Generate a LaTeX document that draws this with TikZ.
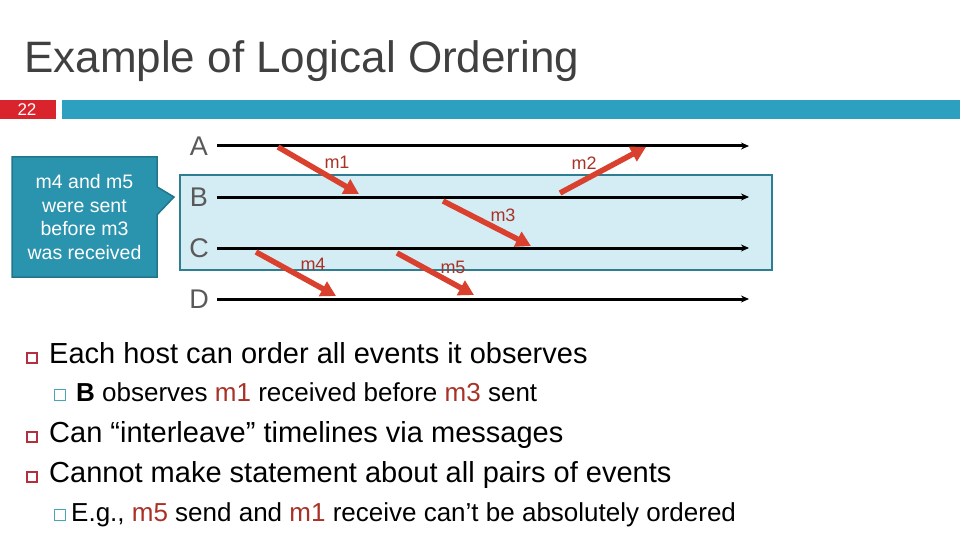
\documentclass[tikz,border=0pt]{standalone}
\usepackage{fontspec}
\setmainfont{Liberation Sans}
\usetikzlibrary{arrows.meta}
\usetikzlibrary{shapes.callouts}
\definecolor{numred}{HTML}{D9232D}
\definecolor{barblue}{HTML}{2EA0BF}
\definecolor{ttlgray}{HTML}{404040}
\definecolor{hostgray}{HTML}{595959}
\definecolor{boxfill}{HTML}{D4ECF4}
\definecolor{boxedge}{HTML}{2E7D91}
\definecolor{notefill}{HTML}{2A93AE}
\definecolor{noteedge}{HTML}{21768C}
\definecolor{msgred}{HTML}{D9412E}
\definecolor{lblred}{HTML}{A93226}
\definecolor{bulred}{HTML}{B43040}
\definecolor{subteal}{HTML}{4BA3B8}
% timeline grid, in px of the slide
\newcommand{\tlxa}{217}
\newcommand{\tlxb}{749}
\newcommand{\tlya}{146}
\newcommand{\tlyb}{197}
\newcommand{\tlyc}{248}
\newcommand{\tlyd}{299}
\newcommand{\hstx}{199}
\newcommand{\bulx}{31.5}
\newcommand{\sbulx}{60}
\newcommand{\txtx}{49}

\begin{document}
\begin{tikzpicture}[x=1pt,y=-1pt,
    tline/.style={line width=3pt,-{Stealth[length=8pt,width=7pt]}},
    msg/.style={line width=5.5pt,draw=msgred,-{Triangle[length=15pt,width=16pt]}},
    msglbl/.style={font=\fontsize{18}{20}\selectfont,text=lblred,inner sep=0pt},
    hostlbl/.style={font=\fontsize{27}{30}\selectfont,text=hostgray,inner sep=0pt},
    bul/.style={draw=bulred,line width=2pt,minimum size=10pt,inner sep=0pt},
    subbul/.style={draw=subteal,line width=1.6pt,minimum size=11pt,inner sep=0pt},
    maintxt/.style={anchor=base west,inner sep=0pt,font=\fontsize{29}{32}\selectfont},
    subtxt/.style={anchor=base west,inner sep=0pt,font=\fontsize{26}{28}\selectfont}]
    \useasboundingbox (0,0) rectangle (960,540);

    \node (ttl) [anchor=base west,inner sep=0pt,text=ttlgray,
      font=\fontsize{44}{50}\selectfont] at (24,73) {Example of Logical Ordering};

    \fill[numred] (0,100) rectangle (56,119);
    \fill[barblue] (62,100) rectangle (960,119);
    \node (num) [text=white,inner sep=0pt,font=\fontsize{17}{18}\selectfont]
      at (27,110) {22};

    \draw[draw=boxedge,fill=boxfill,line width=2pt] (180,175) rectangle (772,270);

    \node (note) [rectangle callout,fill=notefill,draw=noteedge,line width=1.5pt,
      minimum width=145pt,minimum height=120pt,inner sep=0pt,
      callout absolute pointer={(174,197)},callout pointer width=28pt,
      text=white,align=center,font=\fontsize{19.5}{23.5}\selectfont]
      at (84.5,217) {m4 and m5\\were sent\\before m3\\was received};

    % hosts
    \node (hA) [hostlbl] at (\hstx, \tlya) {A};
    \node (hB) [hostlbl] at (\hstx, \tlyb) {B};
    \node (hC) [hostlbl] at (\hstx, \tlyc) {C};
    \node (hD) [hostlbl] at (\hstx, \tlyd) {D};
    \coordinate (As) at (\tlxa, \tlya);
    \coordinate (Ae) at (\tlxb, \tlya);
    \coordinate (Bs) at (\tlxa, \tlyb);
    \coordinate (Be) at (\tlxb, \tlyb);
    \coordinate (Cs) at (\tlxa, \tlyc);
    \coordinate (Ce) at (\tlxb, \tlyc);
    \coordinate (Ds) at (\tlxa, \tlyd);
    \coordinate (De) at (\tlxb, \tlyd);
    \draw[tline] (As) -- (Ae);
    \draw[tline] (Bs) -- (Be);
    \draw[tline] (Cs) -- (Ce);
    \draw[tline] (Ds) -- (De);

    % messages
    \coordinate (m1s) at (278,147);
    \coordinate (m1r) at (359,194);
    \coordinate (m2s) at (560,193);
    \coordinate (m2r) at (646,147);
    \coordinate (m3s) at (443,201);
    \coordinate (m3r) at (531,246);
    \coordinate (m4s) at (256,252);
    \coordinate (m4r) at (336,296);
    \coordinate (m5s) at (397,253);
    \coordinate (m5r) at (474,295);
    \draw[msg] (m1s) -- (m1r);
    \draw[msg] (m2s) -- (m2r);
    \draw[msg] (m3s) -- (m3r);
    \draw[msg] (m4s) -- (m4r);
    \draw[msg] (m5s) -- (m5r);
    \node (l1) [msglbl] at (337,162) {m1};
    \node (l2) [msglbl] at (584,163) {m2};
    \node (l3) [msglbl] at (503,215) {m3};
    \node (l4) [msglbl] at (313,264) {m4};
    \node (l5) [msglbl] at (453,267) {m5};

    % bullets
    \node (b1sq) [bul] at (\bulx,357.5) {};
    \node (b1) [maintxt] at (\txtx,363) {Each host can order all events it observes};
    \node (s1sq) [subbul] at (\sbulx,395) {};
    \node (s1) [subtxt] at (76,401) {\textbf{B} observes \textcolor{lblred}{m1}
      received before \textcolor{lblred}{m3} sent};
    \node (b2sq) [bul] at (\bulx,436.5) {};
    \node (b2) [maintxt] at (\txtx,442) {Can “interleave” timelines via messages};
    \node (b3sq) [bul] at (\bulx,476.5) {};
    \node (b3) [maintxt] at (\txtx,482) {Cannot make statement about all pairs of events};
    \node (s2sq) [subbul] at (\sbulx,515) {};
    \node (s2) [subtxt] at (71,521) {E.g., \textcolor{lblred}{m5} send and
      \textcolor{lblred}{m1} receive can’t be absolutely ordered};
\end{tikzpicture}
\end{document}
